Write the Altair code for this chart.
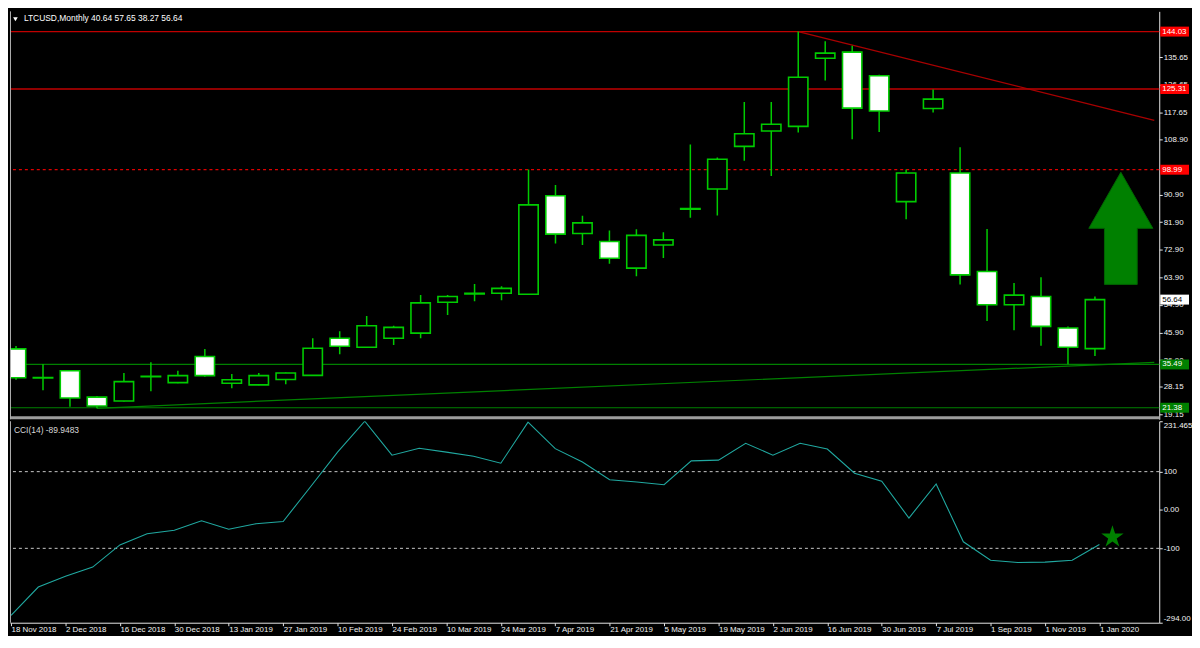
import altair as alt
import pandas as pd

# ---------------- data ----------------
tick_labels = ["18 Nov 2018", "2 Dec 2018", "16 Dec 2018", "30 Dec 2018", "13 Jan 2019",
               "27 Jan 2019", "10 Feb 2019", "24 Feb 2019", "10 Mar 2019", "24 Mar 2019",
               "7 Apr 2019", "21 Apr 2019", "5 May 2019", "19 May 2019", "2 Jun 2019",
               "16 Jun 2019", "30 Jun 2019", "7 Jul 2019", "1 Sep 2019", "1 Nov 2019",
               "1 Jan 2020"]

opens = [40.57, 31.2, 33.43, 24.85, 23.59, 31.6, 29.56, 38.06, 29.35, 28.84,
         30.6, 31.92, 44.03, 41.1, 44.03, 45.7, 55.76, 58.5, 58.72, 58.4,
         90.48, 78.21, 75.57, 66.89, 74.44, 86.3, 92.68, 106.6, 111.64, 113.12,
         135.32, 137.33, 129.66, 88.59, 118.97, 97.9, 65.82, 54.94, 57.65, 47.39,
         40.64]
highs = [41.5, 35.54, 33.6, 25.17, 32.71, 36.17, 33.43, 40.57, 32.39, 32.71,
         32.9, 44.03, 46.33, 51.3, 48.12, 58.18, 58.18, 61.74, 61.01, 99.06,
         94.03, 83.97, 79.16, 79.56, 78.62, 107.24, 103.0, 121.07, 121.07, 144.03,
         140.89, 139.41, 129.97, 99.06, 125.16, 106.3, 79.66, 62.05, 63.94, 47.9,
         57.65]
lows = [30.5, 27.05, 21.7, 21.17, 23.4, 26.73, 29.4, 31.45, 27.77, 28.7,
        29.03, 31.7, 38.78, 40.9, 41.83, 44.03, 51.58, 56.07, 56.39, 58.2,
        74.94, 74.44, 68.34, 64.25, 70.23, 83.34, 84.06, 101.9, 96.96, 111.11,
        128.09, 108.9, 111.33, 82.8, 117.62, 61.55, 49.69, 46.64, 41.61, 35.54,
        38.27]
closes = [31.14, 31.1, 24.53, 21.93, 29.88, 31.5, 31.86, 31.86, 30.51, 31.86,
          32.71, 40.79, 41.42, 48.1, 47.59, 55.57, 57.65, 58.7, 60.29, 87.52,
          77.99, 81.67, 70.13, 77.58, 76.11, 86.1, 102.43, 110.7, 113.84, 129.16,
          137.02, 119.09, 118.15, 97.9, 122.0, 64.69, 54.94, 58.09, 47.9, 41.1,
          56.64]
cci = [-275, -201, -173, -149, -91, -62, -53, -28, -50, -36,
       -30, 60, 151, 231.465, 143, 161, 151, 140, 122, 229,
       160, 125, 79, 73, 66, 128, 130, 174, 143, 174,
       159, 96, 75, -21, 68, -83, -131, -137, -136, -131,
       -89.9483]

price_ticks = [135.65, 126.65, 117.65, 108.90, 90.90, 81.90, 72.90, 63.90,
               54.90, 45.90, 36.90, 28.15, 19.15]
red_levels = [144.03, 125.31]
red_dashed_levels = [98.99]
green_levels = [35.49, 21.38]
red_trend_x = [29.0, 42.2]
red_trend_y = [144.03, 115.1]
green_trend_x = [3.0, 42.2]
green_trend_y = [21.2, 36.2]
arrow_x = [40.96]
arrow_y = [79.88]
cci_levels = [100, -100]
cci_ticks = [231.465, 100, 0, -100, -294]
cci_tick_labels = ["231.465", "100", "0.00", "-100", "-294.00"]
star_x = [40.48]
star_y = [-70.7]

# ---------------- layout / style ----------------
W = 1158
H1 = 411
H2 = 203
FONT = "Liberation Sans"
CANDLE = "#00CC00"
TXT = "#F2F2F2"

ARROW_PATH = "M0,-1L0.571,0L0.292,0L0.292,1L-0.292,1L-0.292,0L-0.571,0Z"
STAR_PATH = ("M0,-1L0.2245,-0.309L0.951,-0.309L0.363,0.118L0.588,0.809L0,0.382"
             "L-0.588,0.809L-0.363,0.118L-0.951,-0.309L-0.2245,-0.309Z")
BOX_PATH = "M-1,-0.345L1,-0.345L1,0.345L-1,0.345Z"

n = len(opens)
candles = pd.DataFrame({"i": list(range(n)), "open": opens, "high": highs,
                        "low": lows, "close": closes})
cci_df = pd.DataFrame({"i": list(range(n)), "cci": cci})

xscale = alt.Scale(domain=[-0.04, 42.2], nice=False, zero=False)
pscale = alt.Scale(domain=[17.62, 150.63], nice=False, zero=False)
cscale = alt.Scale(domain=[-294, 231.465], nice=False, zero=False)

paxis = alt.Axis(orient="right", values=price_ticks, format=".2f", grid=False,
                 tickSize=3, labelPadding=1, labelFlush=False, labelOverlap=False,
                 domainColor="#E6E6E6", tickColor="#E6E6E6", labelColor=TXT,
                 labelFont=FONT, labelFontSize=8)

cci_expr = "".join(f"datum.value == {v} ? '{s}' : " for v, s in zip(cci_ticks, cci_tick_labels)) + "''"
caxis = alt.Axis(orient="right", values=cci_ticks, labelExpr=cci_expr, grid=False,
                 tickSize=3, labelPadding=1, labelFlush=True, labelOverlap=False,
                 domainColor="#E6E6E6", tickColor="#E6E6E6", labelColor=TXT,
                 labelFont=FONT, labelFontSize=8)

x_expr = "[" + ",".join(f"'{s}'" for s in tick_labels) + "][round(datum.value / 2)]"
xaxis = alt.Axis(orient="bottom", values=list(range(0, n, 2)), labelExpr=x_expr,
                 grid=False, tickSize=3, labelPadding=0, labelAlign="left",
                 labelBaseline="top", labelFlush=False, labelOverlap=False,
                 domainColor="#E6E6E6", tickColor="#E6E6E6", labelColor=TXT,
                 labelFont=FONT, labelFontSize=8)


def XM(f):
    return alt.X(f, type="quantitative", scale=xscale, axis=None, title=None)


def XC(f):
    return alt.X(f, type="quantitative", scale=xscale, axis=xaxis, title=None)


def PY(f):
    return alt.Y(f, type="quantitative", scale=pscale, axis=paxis, title=None)


def CY(f):
    return alt.Y(f, type="quantitative", scale=cscale, axis=caxis, title=None)


# ---------------- main pane ----------------
red_rules = alt.Chart(pd.DataFrame({"price": red_levels})).mark_rule(
    color="#C00000", strokeWidth=1.4).encode(y=PY("price"))
red_dash = alt.Chart(pd.DataFrame({"price": red_dashed_levels})).mark_rule(
    color="#E00000", strokeWidth=1.3, strokeDash=[3, 3]).encode(y=PY("price"))
green_rules = alt.Chart(pd.DataFrame({"price": green_levels})).mark_rule(
    color="#008000", strokeWidth=1.2).encode(y=PY("price"))
red_trend = alt.Chart(pd.DataFrame({"i": red_trend_x, "price": red_trend_y})).mark_line(
    color="#A80000", strokeWidth=1.4, clip=True).encode(x=XM("i"), y=PY("price"))
green_trend = alt.Chart(pd.DataFrame({"i": green_trend_x, "price": green_trend_y})).mark_line(
    color="#008000", strokeWidth=1.2, clip=True).encode(x=XM("i"), y=PY("price"))

wicks = alt.Chart(candles).mark_rule(color=CANDLE, strokeWidth=1.5, clip=True).encode(
    x=XM("i"), y=PY("low"), y2="high")
bodies = alt.Chart(candles).mark_bar(size=19.5, stroke=CANDLE, strokeWidth=1.6, clip=True).encode(
    x=XM("i"), y=PY("open"), y2="close",
    fill=alt.condition(alt.datum.close >= alt.datum.open, alt.value("#000000"), alt.value("#FFFFFF")))

arrow = alt.Chart(pd.DataFrame({"i": arrow_x, "price": arrow_y})).mark_point(
    shape=ARROW_PATH, size=113 ** 2, filled=True, fill="#008000", stroke="#006400",
    strokeWidth=1, opacity=1).encode(x=XM("i"), y=PY("price"))

box_vals = red_levels + red_dashed_levels + green_levels + [closes[-1]]
box_df = pd.DataFrame({
    "price": box_vals,
    "label": [f"{v:.2f}" for v in box_vals],
    "bg": ["#FF0000"] * 3 + ["#008000"] * 2 + ["#FFFFFF"],
    "fg": ["#FFFFFF"] * 5 + ["#000000"],
})
boxes = alt.Chart(box_df).mark_point(shape=BOX_PATH, size=29 ** 2, filled=True,
                                     opacity=1, strokeWidth=0).encode(
    x=alt.value(W + 15.5), y=PY("price"), fill=alt.Fill("bg:N", scale=None))
box_text = alt.Chart(box_df).mark_text(align="left", baseline="middle", font=FONT,
                                       fontSize=8).encode(
    x=alt.value(W + 3), y=PY("price"), text="label:N", color=alt.Color("fg:N", scale=None))

title_txt = (f"LTCUSD,Monthly  {opens[-1]:.2f} {highs[-1]:.2f} "
             f"{lows[-1]:.2f} {closes[-1]:.2f}")
title = alt.Chart(pd.DataFrame({"t": [title_txt]})).mark_text(
    align="left", baseline="middle", color="#FFFFFF", font=FONT, fontSize=8.5).encode(
    x=alt.value(14), y=alt.value(7), text="t:N")
tri = alt.Chart(pd.DataFrame({"t": [0]})).mark_point(
    shape="triangle-down", size=22, filled=True, color="#FFFFFF", opacity=1).encode(
    x=alt.value(5.5), y=alt.value(8))
separator = alt.Chart(pd.DataFrame({"t": [0]})).mark_rule(
    color="#9C9C9C", strokeWidth=3).encode(y=alt.value(H1 - 1.5), x=alt.value(0), x2=alt.value(W))
left_border_m = alt.Chart(pd.DataFrame({"t": [0]})).mark_rule(
    color="#B0B0B0", strokeWidth=1).encode(x=alt.value(0.5))

main = alt.layer(red_rules, red_dash, green_rules, red_trend, green_trend, wicks, bodies,
                 arrow, boxes, box_text, title, tri, separator, left_border_m).properties(
    width=W, height=H1)

# ---------------- CCI pane ----------------
cci_rules = alt.Chart(pd.DataFrame({"v": cci_levels})).mark_rule(
    color="#C8C8C8", strokeWidth=1, strokeDash=[3, 3]).encode(y=CY("v"))
cci_line = alt.Chart(cci_df).mark_line(color="#20A8A0", strokeWidth=1.1, clip=True).encode(
    x=XC("i"), y=CY("cci"))
star = alt.Chart(pd.DataFrame({"i": star_x, "v": star_y})).mark_point(
    shape=STAR_PATH, size=560, filled=True, fill="#008000", opacity=1, strokeWidth=0).encode(
    x=XC("i"), y=CY("v"))
cci_label = alt.Chart(pd.DataFrame({"t": [f"CCI(14) {cci[-1]:.4f}"]})).mark_text(
    align="left", baseline="middle", color="#D8D8D8", font=FONT, fontSize=8.5).encode(
    x=alt.value(4), y=alt.value(9), text="t:N")
left_border_c = alt.Chart(pd.DataFrame({"t": [0]})).mark_rule(
    color="#B0B0B0", strokeWidth=1).encode(x=alt.value(0.5))

cci_chart = alt.layer(cci_rules, cci_line, star, cci_label, left_border_c).properties(
    width=W, height=H2)

chart = alt.vconcat(main, cci_chart, spacing=0).configure(
    background="#000000", padding=0).configure_view(stroke=None)

chart.save("out.html", embed_options={"renderer": "svg", "actions": False})
